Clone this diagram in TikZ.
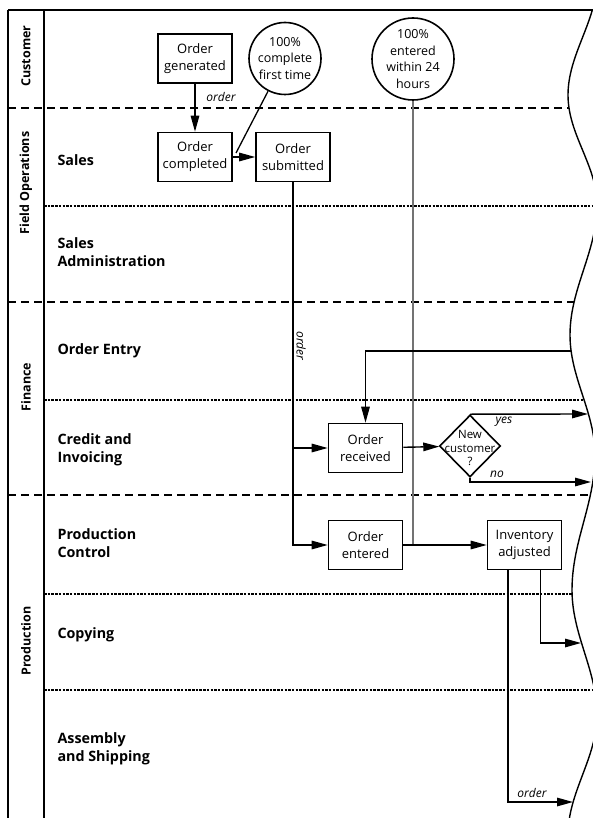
\documentclass[tikz,border=0pt]{standalone}
\usepackage{fontspec}
\setmainfont{Open Sans}
\newfontfamily\lblfont{Open Sans}
\usetikzlibrary{arrows.meta,shapes.geometric}
\begin{document}
\begin{tikzpicture}[x=1pt,y=-1pt,
  arr/.style={-{Triangle[length=16pt,width=8.5pt]}, line width=1.4pt},
  conn/.style={line width=1.3pt},
  box/.style={draw,line width=1.6pt,minimum width=74pt,minimum height=49pt,inner sep=1pt,align=center,font=\fontsize{13}{17}\selectfont},
  meas/.style={draw,circle,line width=1.6pt,inner sep=0pt,align=center,font=\fontsize{12.5}{16.5}\selectfont},
  lanelbl/.style={anchor=west,align=left,font=\lblfont\bfseries\fontsize{14.3}{18}\selectfont},
  grouplbl/.style={rotate=90,font=\lblfont\bfseries\fontsize{12.5}{14}\selectfont},
  major/.style={dash pattern=on 8pt off 5pt,line width=1.4pt},
  minor/.style={dash pattern=on 2.5pt off 1.2pt,line width=1.1pt},
  edgeline/.style={line width=2pt},
  tag/.style={font=\itshape\fontsize{12}{14}\selectfont},
  wavy/.style={line width=1.4pt},
  measline/.style={line width=1.2pt, draw=black!55}
]
\useasboundingbox (0,0) rectangle (593,818);
\fill[white] (0,0) rectangle (593,818);

% frame
\draw[edgeline] (8,10) -- (8,818);
\draw[edgeline] (44,10) -- (44,818);
\draw[edgeline] (8,10) -- (593,10);

% lane separators clipped to the wavy edge
\begin{scope}
\clip (0,-30) -- (597,-20)
  .. controls (597,21) and (568,54) .. (568,95)
  .. controls (568,135) and (597,165) .. (597,205)
  .. controls (597,252) and (570,288) .. (570,335)
  .. controls (570,378) and (595,412) .. (595,455)
  .. controls (595,504) and (572,541) .. (572,590)
  .. controls (572,635) and (597,670) .. (597,715)
  .. controls (597,758) and (568,792) .. (568,835)
  -- (0,835) -- cycle;
\draw[major] (8,108) -- (600,108);
\draw[minor] (44,206) -- (600,206);
\draw[major] (8,302) -- (600,302);
\draw[minor] (44,400) -- (600,400);
\draw[major] (8,495) -- (600,495);
\draw[minor] (44,594) -- (600,594);
\draw[minor] (44,690) -- (600,690);
\end{scope}

% wavy right edge
\begin{scope}
\clip (0,10) rectangle (593,818);
\draw[wavy] (597,-20)
  .. controls (597,21) and (568,54) .. (568,95)
  .. controls (568,135) and (597,165) .. (597,205)
  .. controls (597,252) and (570,288) .. (570,335)
  .. controls (570,378) and (595,412) .. (595,455)
  .. controls (595,504) and (572,541) .. (572,590)
  .. controls (572,635) and (597,670) .. (597,715)
  .. controls (597,758) and (568,792) .. (568,835);
\end{scope}

% group labels
\node[grouplbl] (gcust) at (26,56) {Customer};
\node[grouplbl] (gfield) at (26,183) {Field Operations};
\node[grouplbl] (gfin) at (26,387) {Finance};
\node[grouplbl] (gprod) at (26,641) {Production};

% lane labels
\node[lanelbl] (lsales) at (54,160) {Sales};
\node[lanelbl] (lsadm) at (54,252) {Sales\\Administration};
\node[lanelbl] (loe) at (54,351) {Order Entry};
\node[lanelbl] (lci) at (54,450) {Credit and\\Invoicing};
\node[lanelbl] (lpc) at (54,543) {Production\\Control};
\node[lanelbl] (lcopy) at (54,635) {Copying};
\node[lanelbl] (las) at (54,749) {Assembly\\and Shipping};

% process boxes
\node[box] (gen) at (195,58.5) {Order\\generated};
\node[box] (comp) at (195,157) {Order\\completed};
\node[box] (subm) at (293,157) {Order\\submitted};
\node[box] (recv) at (365.5,448) {Order\\received};
\node[box] (entered) at (365.5,545) {Order\\entered};
\node[box] (inv) at (524.5,545) {Inventory\\adjusted};

% measures
\node[meas,minimum size=72pt] (c1) at (285,58.5) {100\%\\complete\\first time};
\node[meas,minimum size=82pt] (c2) at (413,59) {100\%\\entered\\within 24\\hours};

% decision
\node[draw,diamond,line width=1.6pt,minimum width=61pt,minimum height=62pt,inner sep=0pt] (dia) at (470,446) {};
\node[align=center,font=\fontsize{11.5}{13.5}\selectfont] (diat) at (470,448) {New\\customer\\?};

% coordinates on the wavy edge
\coordinate (win) at (571,351);
\coordinate (wyes) at (588,414);
\coordinate (wno) at (591,482);
\coordinate (wcopy) at (581,643);
\coordinate (wship) at (573,802);
\coordinate (c1tip) at (236,153);

% connectors
\draw[arr] (gen) -- (comp);
\node[tag] (t1) at (221,97) {order};
\draw[arr] (comp) -- (subm);
\draw[conn] (c1) -- (c1tip);
\draw[measline] (c2) -- (c2 |- entered);

\coordinate (j1) at (subm.south |- recv);
\coordinate (j2) at (subm.south |- entered);
\draw[arr] (subm) -- (j2) -- (entered);
\draw[arr] (j1) -- (recv);
\node[tag,rotate=-90] (t2) at (301,346) {order};

\draw[arr] (win) -- (win -| recv) -- (recv);
\draw[arr] (recv) -- (dia);
\draw[arr] (dia.north) -- (wyes);
\node[tag] (tyes) at (504,422) {yes};
\coordinate (dnob) at (dia.south |- wno);
\draw[arr] (dia.south) -- (dnob) -- (wno);
\node[tag] (tno) at (497,474) {no};

\draw[arr] (entered) -- (inv);
\draw[arr] ([xshift=16pt]inv.south) |- (wcopy);
\draw[arr] ([xshift=-16.5pt]inv.south) |- (wship);
\node[tag] (t3) at (532,793) {order};
\end{tikzpicture}
\end{document}
